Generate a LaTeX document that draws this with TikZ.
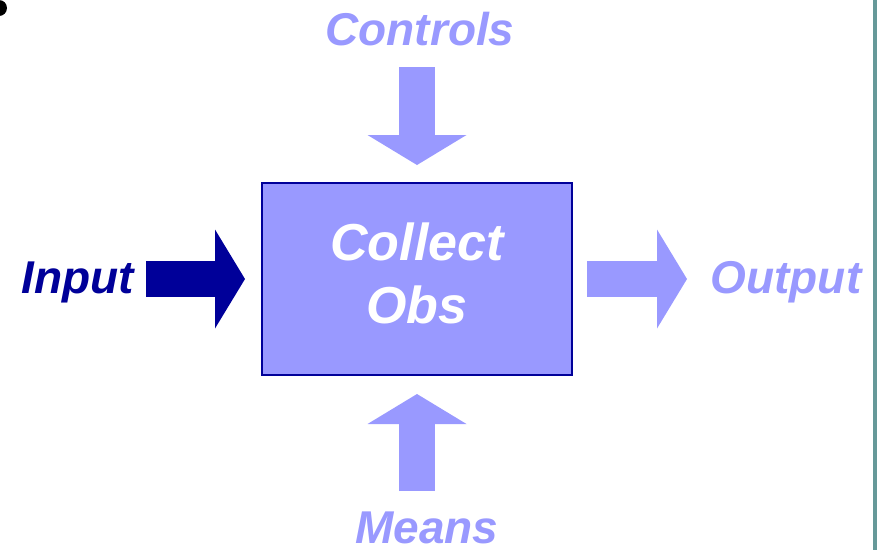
\documentclass[tikz,border=0pt]{standalone}
\usepackage{fontspec}
\setmainfont{Liberation Sans}
\usetikzlibrary{arrows.meta}
\definecolor{lilac}{HTML}{9999FF}
\definecolor{navy}{HTML}{000099}
\definecolor{rim}{HTML}{669999}

\begin{document}
\begin{tikzpicture}[x=1pt, y=-1pt,
  lbl/.style={font=\fontsize{46}{55}\selectfont\bfseries\itshape, inner sep=0pt, anchor=base},
  blk/.style={line width=36pt, -{Triangle[length=30pt, width=99pt, line width=0pt]}}]
  \useasboundingbox (0,0) rectangle (877,550);
  \fill (-1,8) circle (8pt);
  \fill[rim] (873,0) rectangle (877,550);
  \node (box) [draw=navy, line width=2pt, fill=lilac, minimum width=310pt, minimum height=192pt,
    align=center, text=white, text depth=11pt, font=\fontsize{52}{63}\selectfont\bfseries\itshape] at (417,279) {Collect\\Obs};
  \node (controls) [lbl, text=lilac] at (420,45) {Controls};
  \node (means) [lbl, text=lilac] at (427,543) {Means};
  \node (input) [lbl, text=navy] at (78,293) {Input};
  \node (output) [lbl, text=lilac] at (786,293) {Output};
  \coordinate (ctl-tail) at (417,67);
  \coordinate (means-tail) at (417,491);
  \coordinate (in-tail) at (146,279);
  \coordinate (out-tip) at (687,279);
  \draw[blk, lilac, shorten >=17pt] (ctl-tail) -- (box.north);
  \draw[blk, lilac, shorten >=18pt] (means-tail) -- (box.south);
  \draw[blk, navy, shorten >=16pt] (in-tail) -- (box.west);
  \draw[blk, lilac, shorten <=14pt] (box.east) -- (out-tip);
\end{tikzpicture}
\end{document}
